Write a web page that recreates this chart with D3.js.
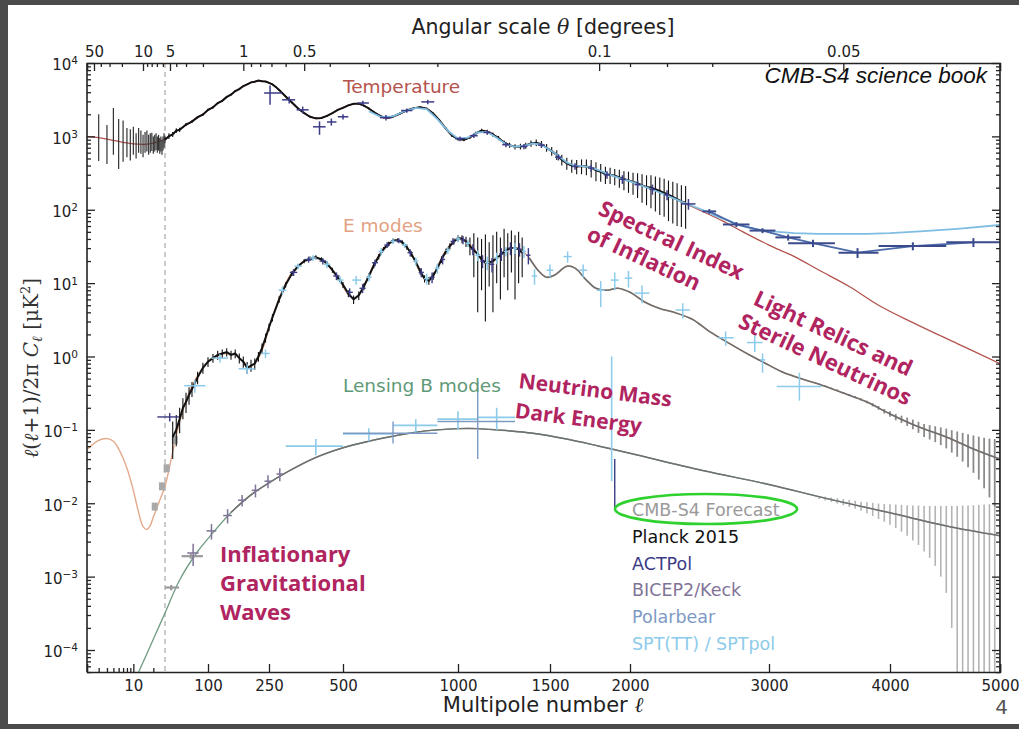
<!DOCTYPE html>
<html><head><meta charset="utf-8">
<script src="https://cdn.jsdelivr.net/npm/d3@7"></script>
<style>body{margin:0;background:#fff}svg{display:block}</style>
</head><body><svg id="c" width="1019" height="729"></svg>
<script>
// ---------------- DATA ----------------
const ttTheory = [[2,1000],[3,960],[4,920],[5,880],[7,830],[10,790],[15,780],[20,810],[25,860],[30,920],[40,1080],[50,1250],[60,1420],[80,1800],[100,2250],[120,2800],[140,3400],[160,4100],[180,4800],[200,5400],[220,5700],[240,5600],[260,5100],[280,4300],[300,3500],[330,2600],[360,2050],[390,1800],[410,1750],[440,1900],[480,2300],[520,2650],[550,2800],[580,2650],[620,2150],[660,1800],[700,1850],[760,2250],[820,2500],[860,2300],[900,1750],[950,1200],[990,960],[1030,900],[1070,1000],[1120,1200],[1160,1150],[1210,950],[1260,780],[1300,720],[1350,740],[1410,820],[1450,780],[1500,650],[1540,560],[1590,450],[1640,390],[1690,390],[1740,380],[1800,340],[1900,290],[2000,250],[2120,200],[2240,160],[2360,125],[2500,95],[2650,70],[2800,50],[3000,33],[3200,23],[3400,15],[3650,9],[3900,5],[4200,2.9],[4600,1.5],[5000,0.8]];
const eeTheory = [[2,0.054],[3,0.072],[4,0.076],[5,0.07],[6,0.055],[8,0.03],[10,0.015],[12,0.0075],[14,0.0048],[16,0.0044],[18,0.005],[20,0.0065],[25,0.011],[30,0.017],[40,0.05],[50,0.13],[60,0.25],[70,0.4],[80,0.55],[100,0.85],[120,1.05],[140,1.1],[160,1.05],[180,0.85],[195,0.72],[210,0.8],[230,1.2],[260,3.5],[290,8],[320,14],[360,20],[400,22.5],[440,18],[480,12],[520,7],[545,6.2],[580,9],[620,18],[660,30],[700,38],[740,36],[780,25],[820,14],[850,11],[880,13],[930,25],[980,38],[1010,42],[1050,36],[1100,25],[1140,19],[1170,19],[1220,24],[1280,30],[1320,30],[1380,22],[1430,15],[1480,12],[1530,13],[1600,17],[1650,16],[1720,11],[1780,8.5],[1850,8],[1920,8.5],[2000,7.5],[2100,5.5],[2200,4.5],[2300,4.0],[2430,3.2],[2550,2.2],[2700,1.5],[2850,1.05],[2960,0.83],[3100,0.62],[3300,0.47],[3400,0.42],[3640,0.3],[3800,0.24],[4000,0.165],[4250,0.11],[4500,0.08],[4750,0.055],[5000,0.04]];
const bbTheory = [[12,5e-5],[20,1.4e-4],[30,3.2e-4],[50,9e-4],[80,2.2e-3],[100,3.3e-3],[150,7.5e-3],[200,0.013],[250,0.019],[300,0.026],[400,0.042],[500,0.057],[600,0.07],[700,0.082],[800,0.093],[900,0.1],[1000,0.104],[1100,0.104],[1200,0.1],[1400,0.09],[1600,0.075],[1800,0.06],[2000,0.048],[2500,0.028],[3000,0.018],[3500,0.0112],[4000,0.0074],[4500,0.0049],[5000,0.0036]];

// Planck 2015: [ell, lo, hi] (low ell) and [ell, value, lo, hi]
const planckLowTT = [[3,460,2000],[4,420,1430],[5,560,2430],[6,360,1720],[7,450,1650],[8,520,1300],[9,470,1250],[10,560,1350],[11,500,1100],[12,600,1300],[13,580,1200],[14,520,1050],[15,600,1150],[16,620,1200],[17,560,1050],[18,600,1100],[19,630,1120],[20,580,1000],[21,620,1050],[22,650,1100],[23,600,1000],[24,640,1050],[25,580,950],[26,620,1000],[27,560,900],[28,640,1000],[29,700,1100]];
const planckTT = [[30,900,800,1000],[35,1010,920,1100],[40,1060,980,1150],[45,1200,1110,1290],[50,1230,1150,1310],[60,1450,1380,1520],[70,1590,1520,1660],[80,1830,1760,1900],[90,1980,1910,2050],[100,2300,2220,2380],[110,2480,2400,2560],[120,2850,2760,2940],[130,3050,2960,3140],[140,3450,3350,3550],[150,3700,3600,3800],[160,4150,4050,4250],[170,4400,4300,4500],[180,4850,4750,4950],[190,5100,5000,5200],[200,5450,5350,5550],[210,5550,5450,5650],[220,5750,5650,5850],[230,5650,5550,5750],[240,5580,5480,5680],[250,5350,5250,5450],[260,5100,5000,5200],[270,4700,4600,4800],[280,4300,4200,4400],[300,3500,3420,3580],[320,2900,2830,2970],[340,2400,2340,2460],[360,2080,2020,2140],[380,1850,1800,1900],[400,1760,1710,1810],[420,1780,1730,1830],[440,1900,1850,1950],[460,2080,2020,2140],[480,2300,2240,2360],[500,2450,2390,2510],[520,2650,2590,2710],[540,2780,2710,2850],[560,2790,2720,2860],[580,2620,2550,2690],[600,2400,2330,2470],[620,2150,2090,2210],[640,1950,1890,2010],[660,1820,1760,1880],[680,1800,1740,1860],[700,1860,1800,1920],[730,2050,1980,2120],[760,2260,2190,2330],[790,2420,2340,2500],[820,2500,2420,2580],[850,2380,2300,2460],[880,2050,1980,2120],[910,1650,1590,1710],[940,1280,1230,1330],[970,1030,980,1080],[1000,920,875,965],[1030,900,855,945],[1060,970,920,1020],[1090,1100,1040,1160],[1120,1200,1130,1270],[1150,1160,1090,1230],[1180,1060,990,1130],[1210,950,885,1015],[1240,820,760,880],[1270,760,700,820],[1300,720,660,780],[1330,730,665,795],[1360,750,680,820],[1390,800,720,880],[1420,820,735,905],[1450,780,695,865],[1480,700,615,785],[1510,630,545,715],[1540,560,475,645],[1570,480,400,560],[1600,430,350,510],[1630,400,320,480],[1660,390,305,475],[1690,395,305,485],[1720,390,295,485],[1750,375,275,475],[1780,345,245,445],[1810,330,240,420],[1840,305,225,385],[1870,300,225,375],[1900,290,215,360],[1930,275,200,350],[1960,260,185,335],[1990,250,170,330],[2020,240,160,320],[2050,230,145,315],[2080,215,125,305],[2110,205,115,295],[2140,200,105,295],[2170,190,95,285],[2200,180,85,275],[2230,170,80,265],[2260,160,70,250],[2290,150,65,240],[2320,140,60,230],[2350,130,58,215],[2380,125,55,210]];
const planckEE = [[40,0.08,0.04,0.13],[45,0.1,0.06,0.16],[50,0.14,0.09,0.2],[55,0.2,0.14,0.27],[60,0.24,0.17,0.32],[65,0.3,0.22,0.38],[70,0.36,0.28,0.45],[80,0.52,0.42,0.62],[90,0.7,0.58,0.82],[100,0.85,0.72,0.98],[110,0.95,0.82,1.08],[120,1.05,0.9,1.2],[130,1.1,0.95,1.25],[140,1.15,1.0,1.3],[150,1.05,0.9,1.2],[160,1.1,0.95,1.25],[170,0.95,0.8,1.1],[180,0.85,0.7,1.0],[190,0.7,0.58,0.84],[200,0.75,0.62,0.9],[210,0.8,0.66,0.94],[220,1.0,0.85,1.15],[230,1.3,1.1,1.5],[240,1.8,1.55,2.05],[250,2.5,2.2,2.8],[260,3.4,3.0,3.8],[280,6.0,5.4,6.6],[300,9.5,8.7,10.3],[320,13.5,12.5,14.5],[340,17,15.8,18.2],[360,20,18.6,21.4],[380,21.5,20,23],[400,22.5,21,24],[420,21,19.5,22.5],[440,18.5,17,20],[460,15,13.8,16.2],[480,12,11,13],[500,9.5,8.6,10.4],[520,7.2,6.4,8],[540,6.0,5.2,6.8],[560,6.8,5.9,7.7],[580,9.0,8,10],[600,12.5,11.3,13.7],[620,17.5,16,19],[640,23,21,25],[660,29,27,31],[680,34,31.5,36.5],[700,38,35.5,40.5],[720,38.5,36,41],[740,36,33.5,38.5],[760,31,28.5,33.5],[780,25,22.8,27.2],[800,19.5,17.6,21.4],[820,14.5,13,16],[840,11.5,10.2,12.8],[860,10.8,9.5,12.1],[880,12.5,11,14],[900,16,14.2,17.8],[920,21,18.8,23.2],[940,27,24.5,29.5],[960,32,29,35],[980,37,33.5,40.5],[1000,41,37,45],[1020,40,35,45],[1040,37,31,43],[1060,32,24,42],[1080,28,12,48],[1100,25,4,42],[1120,21,8,40],[1140,19,3,46],[1160,19,9,36],[1180,20,4,45],[1200,22,10,50],[1220,24,6,42],[1240,27,12,55],[1260,29,8,48],[1280,30,14,52],[1300,30,6,45],[1320,29,10,50],[1340,26,12,42]];

// crosses: [ell, value, lo, hi, ellLo, ellHi]
const actTT = [[253,3900,2700,4950,236,289],[311,3150,2800,3500,289,330],[355,2300,2050,2550,335,375],[413,1350,1050,1600,390,435],[456,1570,1400,1750,440,475],[500,1850,1700,2000,480,520],[576,2850,2650,3050,555,600],[670,1800,1650,1950,645,695],[760,2250,2100,2400,735,785],[855,2950,2750,3150,825,885],[1010,930,860,1000,985,1035],[1080,1020,950,1090,1060,1100],[1150,1130,1050,1210,1130,1170],[1250,770,710,830,1230,1270],[1350,730,670,790,1330,1370],[1450,760,700,820,1430,1470],[1550,520,470,570,1530,1570],[1650,390,350,430,1630,1670],[1750,370,330,410,1730,1770],[1850,300,265,335,1830,1870],[1950,260,225,295,1930,1970],[2050,220,190,250,2030,2070],[2150,190,160,220,2130,2170],[2250,160,135,185,2230,2270],[2400,120,100,140,2350,2450]];
const actHighTT = [[2550,95,88,102,2500,2600],[2750,63,58,68,2650,2850],[2950,52,48,56,2850,3050],[3150,42,38,46,3050,3250],[3350,35,31,39,3150,3530],[3720,26,22,30,3560,3900],[4200,32,28,36,3900,4500],[4750,36,31,41,4500,5000]];
const sptTT = [[600,2200],[650,1830],[700,1870],[750,2200],[800,2450],[850,2350],[900,1720],[950,1190],[1000,930],[1050,960],[1100,1130],[1150,1150],[1200,960],[1250,780],[1300,720],[1350,745],[1400,800],[1450,770],[1500,650],[1550,545],[1600,440],[1650,395],[1700,392],[1750,375],[1800,345],[1850,310],[1900,285],[1950,262],[2000,245],[2100,205],[2200,172],[2300,142],[2400,118],[2500,100],[2600,82],[2700,70],[2800,60],[2900,54],[3000,51],[3200,48],[3400,47],[3600,47],[3800,47],[4000,48],[4300,51],[4600,55],[5000,62]];
const actEE = [[36,0.15,0.13,0.17,23,49],[325,14,12.5,15.5,313,337],[375,21,19,23,363,387],[425,20,18,22,413,437],[475,12.5,11,14,463,487],[525,7.5,6.5,8.5,513,537],[575,8.5,7.3,9.7,563,587],[625,19,17,21,613,637],[675,33,30,36,663,687],[725,38,35,41,713,737],[775,26,23,29,763,787],[825,14,12,16,813,837],[875,12,10,14,863,887],[925,21,18,24,913,937],[975,37,33,41,963,987],[1025,39,34,44,1013,1037],[1075,29,24,34,1063,1087],[1125,20,16,24,1113,1137],[1175,18,14,22,1163,1187],[1225,25,20,30,1213,1237],[1275,30,24,36,1263,1287],[1325,29,23,35,1313,1337],[1375,24,18,30,1363,1387]];
const sptEE = [[75,0.4,0.32,0.48,57,95],[125,0.95,0.83,1.07,107,143],[190,0.68,0.58,0.78,168,210],[240,1.1,0.95,1.25,228,252],[290,8,7,9,278,302],[340,17,15.5,18.5,328,352],[390,22,20,24,378,402],[440,18,16,20,428,452],[490,11,9.7,12.3,478,502],[550,11,9.5,12.5,535,570],[600,12,10.5,13.5,588,612],[650,27,24,30,638,662],[700,37,34,40,688,712],[750,33,30,36,738,762],[800,20,17.5,22.5,788,812],[850,11.5,9.5,13.5,838,862],[900,16,13.5,18.5,888,912],[950,28,25,31,938,962],[1000,40,36,44,988,1012],[1050,35,31,39,1038,1062],[1100,24,20,28,1088,1112],[1150,19,15,23,1138,1162],[1200,22,18,26,1188,1212],[1250,27,23,31,1238,1262],[1300,30,25,35,1288,1312],[1350,27,22,32,1338,1362],[1410,12.5,9.5,15.5,1395,1425],[1500,15,12,18,1480,1520],[1605,23,19,27,1580,1630],[1700,15,12,18,1675,1725],[1810,8,4.7,10.7,1785,1835],[1900,11,8,14,1875,1925],[1990,11.7,8.7,14.7,1965,2015],[2080,7.3,5.3,9.3,2030,2130],[2360,4.3,3.3,5.3,2310,2410],[2670,1.8,1.4,2.2,2610,2730],[2890,1.55,1.15,1.95,2830,2950],[2950,0.9,0.6,1.1,2930,2970],[3240,0.39,0.25,0.6,3060,3420]];

const s4LowEE = [[21,0.009],[27,0.017],[32,0.03],[43,0.073]];
const s4LowBB = [[38,7.1e-4,6.5e-4,7.7e-4,30,49],[68,1.9e-3,1.75e-3,2.05e-3,53,90]];
const bkBB = [[72,0.0021,0.0014,0.0028,62,82],[107,0.0042,0.0032,0.0052,97,117],[142,0.0068,0.0053,0.0083,132,152],[177,0.011,0.009,0.013,167,187],[212,0.015,0.012,0.018,202,222],[247,0.02,0.016,0.024,237,257],[282,0.025,0.02,0.03,272,292]];
const pbBB = [[700,0.09,0.065,0.13,500,900],[1100,0.13,0.04,0.44,900,1300]];
const sptBB = [[400,0.06,0.045,0.075,300,500],[600,0.088,0.07,0.105,500,700],[800,0.115,0.09,0.14,700,900],[1000,0.14,0.1,0.18,900,1100],[1200,0.148,0.1,0.2,1100,1300],[1880,0.1,0.02,1.0,1880,1880]];
const actBB = [[1900,0.02,0.0088,0.04,1900,1900]];

const s4Ell  = [3400,3450,3500,3550,3600,3650,3700,3750,3800,3850,3900,3950,4000,4050,4100,4150,4200,4250,4300,4350,4400,4450,4500,4550,4600,4650,4700,4750,4800,4850,4900,4950,5000];
const s4E    = [0.42,0.4,0.37,0.35,0.32,0.3,0.28,0.26,0.24,0.22,0.2,0.18,0.165,0.15,0.14,0.13,0.12,0.11,0.1,0.095,0.09,0.085,0.08,0.074,0.069,0.064,0.059,0.055,0.051,0.047,0.044,0.042,0.04];
const s4Eerr = [0.006,0.006,0.007,0.007,0.008,0.008,0.009,0.009,0.01,0.011,0.012,0.013,0.014,0.015,0.016,0.017,0.018,0.019,0.02,0.021,0.022,0.023,0.024,0.025,0.026,0.027,0.028,0.029,0.03,0.031,0.032,0.033,0.033];
const s4B    = [0.012,0.0116,0.0112,0.0108,0.0104,0.01,0.0096,0.0092,0.0088,0.0084,0.008,0.0077,0.0074,0.0071,0.0068,0.0065,0.0062,0.006,0.0057,0.0055,0.0053,0.0051,0.0049,0.0047,0.0045,0.0044,0.0042,0.0041,0.004,0.0039,0.0038,0.0037,0.0036];
const s4Berr = [0.0006,0.0007,0.0008,0.0009,0.001,0.0011,0.0012,0.0013,0.0015,0.0017,0.0019,0.0021,0.0023,0.0025,0.0027,0.0029,0.0031,0.0033,0.0035,0.0037,0.0039,0.0041,0.0043,0.0045,0.0047,0.0049,0.0051,0.0053,0.0055,0.0057,0.0059,0.0061,0.0063];

const xMajor = [10,100,250,500,1000,1500,2000,3000,4000,5000];
const xMinor = [3,4,5,6,7,8,9,20];
const thetaMajor = [50,10,5,1,0.5,0.1,0.05];
const thetaMinor = [40,30,20,9,8,7,6,4,3,2,0.9,0.8,0.7,0.6,0.4,0.3,0.2,0.09,0.08,0.07,0.06,0.04];
const yExp = [-4,-3,-2,-1,0,1,2,3,4];
const legendItems = [["CMB-S4 Forecast","#9a9a9a"],["Planck 2015","#111111"],["ACTPol","#3b3b86"],["BICEP2/Keck","#7f7398"],["Polarbear","#7d9ac4"],["SPT(TT) / SPTpol","#8ccbea"]];

// ---------------- SCALES ----------------
const L = 87, R = 1000, T = 63, B = 672;
const xLow = d3.scaleLog().domain([2,30]).range([L,165]);
const xHigh = d3.scalePow().exponent(0.585).domain([30,100,250,500,1000,1500,2000,3000,4000,5000]).range([165,208,269,343,458,550,630,769,890,R]);
const x = l => l < 30 ? xLow(l) : xHigh(l);
x.copy = () => x; x.range = () => [L,R]; x.domain = () => [2,5000];
const thLow = d3.scaleLog().domain([50,10,5]).range([94,143,170]);
const xt = t => t >= 5 ? thLow(t) : x(180/t);
xt.copy = () => xt; xt.range = () => [L,R]; xt.domain = () => [50,0.04];
const y = d3.scaleLog().domain([1e-4,1e4]).range([650,T]);
const yc = v => v <= 0 ? B + 5 : y(v);

const svg = d3.select('#c');
svg.append('rect').attr('width',1019).attr('height',729).attr('fill','#4b4b4b');
svg.append('rect').attr('x',8).attr('y',5).attr('width',1011).attr('height',719).attr('fill','#fff');

svg.append('clipPath').attr('id','clip').append('rect').attr('x',L).attr('y',T).attr('width',R-L).attr('height',B-T);
const plot = svg.append('g').attr('clip-path','url(#clip)');

plot.append('line').attr('x1',x(30)).attr('x2',x(30)).attr('y1',T).attr('y2',B).attr('stroke','#b0b0b0').attr('stroke-width',1.3).attr('stroke-dasharray','5,4');

const line = d3.line().x(d=>x(d[0])).y(d=>y(d[1])).curve(d3.curveCatmullRom.alpha(0.5));

plot.append('path').attr('d',line(ttTheory)).attr('fill','none').attr('stroke','#b4534d').attr('stroke-width',1.3);
plot.append('path').attr('d',line(eeTheory)).attr('fill','none').attr('stroke','#e3a98a').attr('stroke-width',1.4);
plot.append('path').attr('d',line(bbTheory)).attr('fill','none').attr('stroke','#6f9c82').attr('stroke-width',1.3);

function crosses(g, data, color, w){
  data.forEach(d=>{
    g.append('line').attr('x1',x(d[0])).attr('x2',x(d[0])).attr('y1',yc(d[2])).attr('y2',yc(d[3])).attr('stroke',color).attr('stroke-width',w);
    if (d[4] !== d[5]) g.append('line').attr('x1',x(d[4])).attr('x2',x(d[5])).attr('y1',y(d[1])).attr('y2',y(d[1])).attr('stroke',color).attr('stroke-width',w);
  });
}

const gS4 = plot.append('g');
s4Ell.forEach((l,i)=>{
  gS4.append('line').attr('x1',x(l)).attr('x2',x(l)).attr('y1',yc(s4B[i]-s4Berr[i])).attr('y2',yc(s4B[i]+s4Berr[i])).attr('stroke','#b4b4b4').attr('stroke-width',1.6);
  gS4.append('line').attr('x1',x(l)).attr('x2',x(l)).attr('y1',yc(s4E[i]-s4Eerr[i])).attr('y2',yc(s4E[i]+s4Eerr[i])).attr('stroke','#8a8a8a').attr('stroke-width',1.8);
});
plot.append('path').attr('d',line(eeTheory.filter(d=>d[0]>=1350))).attr('fill','none').attr('stroke','#6e6e6e').attr('stroke-width',1.6);
plot.append('path').attr('d',line(bbTheory.filter(d=>d[0]>=150))).attr('fill','none').attr('stroke','#707070').attr('stroke-width',1.5);
gS4.selectAll('rect.lowE').data(s4LowEE).join('rect').attr('x',d=>x(d[0])-3).attr('y',d=>y(d[1])-4).attr('width',6).attr('height',8).attr('fill','#a9a9a9');
crosses(gS4, s4LowBB, '#9a9a9a', 2.2);

const gP = plot.append('g');
planckLowTT.forEach(d=>gP.append('line').attr('x1',x(d[0])).attr('x2',x(d[0])).attr('y1',y(d[1])).attr('y2',y(d[2])).attr('stroke','#333').attr('stroke-width',1.2));
[planckTT, planckEE].forEach(arr=>{
  arr.forEach(d=>gP.append('line').attr('x1',x(d[0])).attr('x2',x(d[0])).attr('y1',y(d[2])).attr('y2',y(d[3])).attr('stroke','#111').attr('stroke-width',1.1));
  gP.append('path').attr('d',d3.line().x(d=>x(d[0])).y(d=>y(d[1]))(arr)).attr('fill','none').attr('stroke','#111').attr('stroke-width',2);
});

plot.append('path').attr('d',d3.line().x(d=>x(d[0])).y(d=>y(d[1]))(sptTT)).attr('fill','none').attr('stroke','#7fbde2').attr('stroke-width',1.8);
plot.append('path').attr('d',d3.line().x(d=>x(d[0])).y(d=>y(d[1]))(actHighTT)).attr('fill','none').attr('stroke','#4a6aa8').attr('stroke-width',1.8);
const gD = plot.append('g');
crosses(gD, actTT, '#3b3b86', 1.5);
crosses(gD, actHighTT, '#3b4a8c', 2);
crosses(gD, actEE, '#3b3b86', 1.4);
crosses(gD, sptEE, '#8ccbea', 1.5);
crosses(gD, bkBB, '#7f7398', 1.5);
crosses(gD, sptBB, '#8ccbea', 1.6);
crosses(gD, pbBB, '#7d9ac4', 1.4);
crosses(gD, actBB, '#3b3b86', 1.4);

// ---------------- AXES ----------------
const axFont = '"DejaVu Sans", sans-serif';
const FS = 15;
function styleAxis(g){ g.select('.domain').attr('stroke','#222').attr('stroke-width',1.6); g.selectAll('.tick line').attr('stroke','#222').attr('stroke-width',1.3); g.selectAll('text').attr('font-family',axFont).attr('font-size',FS).attr('fill','#222'); }
const gb = svg.append('g').attr('transform',`translate(0,${B})`).call(d3.axisBottom(x).tickValues(xMajor).tickSize(-8).tickPadding(8).tickFormat(d3.format('d')));
styleAxis(gb);
svg.append('g').attr('transform',`translate(0,${B})`).call(d3.axisBottom(x).tickValues(xMinor).tickSize(-4).tickFormat('')).call(styleAxis).select('.domain').remove();
const gt = svg.append('g').attr('transform',`translate(0,${T})`).call(d3.axisTop(xt).tickValues(thetaMajor).tickSize(-8).tickPadding(6).tickFormat(d=>String(d)));
styleAxis(gt);
svg.append('g').attr('transform',`translate(0,${T})`).call(d3.axisTop(xt).tickValues(thetaMinor).tickSize(-4).tickFormat('')).call(styleAxis).select('.domain').remove();

const yMinor = [];
yExp.forEach(e=>{ for(let k=2;k<=9;k++){ const v=k*Math.pow(10,e); if (y(v)>=T) yMinor.push(v);} });
for(let k=5;k<=9;k++) yMinor.push(k*1e-5);
const gl = svg.append('g').attr('transform',`translate(${L},0)`).call(d3.axisLeft(y).tickValues(yExp.map(e=>Math.pow(10,e))).tickSize(-8).tickPadding(6).tickFormat(''));
styleAxis(gl);
gl.select('.domain').attr('d',`M0,${B}V${T}`);
gl.selectAll('.tick').each(function(d){
  const e = Math.round(Math.log10(d));
  const t = d3.select(this).append('text').attr('x',-9).attr('dy','0.45em').attr('text-anchor','end').attr('font-family',axFont).attr('font-size',FS).attr('fill','#222');
  t.append('tspan').text('10');
  t.append('tspan').attr('dy','-0.55em').attr('font-size',10.5).text(String(e).replace('-','\u2212'));
});
svg.append('g').attr('transform',`translate(${L},0)`).call(d3.axisLeft(y).tickValues(yMinor).tickSize(-4).tickFormat('')).call(styleAxis).select('.domain').remove();
const gr = svg.append('g').attr('transform',`translate(${R},0)`).call(d3.axisRight(y).tickValues(yExp.map(e=>Math.pow(10,e))).tickSize(-8).tickFormat(''));
styleAxis(gr); gr.select('.domain').attr('d',`M0,${B}V${T}`);
svg.append('g').attr('transform',`translate(${R},0)`).call(d3.axisRight(y).tickValues(yMinor).tickSize(-4).tickFormat('')).call(styleAxis).select('.domain').remove();

// ---------------- TEXT ----------------
svg.append('text').attr('x',543).attr('y',34).attr('text-anchor','middle').attr('font-family',axFont).attr('font-size',20.5).attr('fill','#222')
  .html('Angular scale <tspan font-family="DejaVu Serif" font-style="italic">θ</tspan> [degrees]');
svg.append('text').attr('x',543).attr('y',712).attr('text-anchor','middle').attr('font-family',axFont).attr('font-size',21).attr('fill','#222')
  .html('Multipole number <tspan font-family="DejaVu Serif" font-style="italic">ℓ</tspan>');
svg.append('text').attr('transform','translate(38,368) rotate(-90)').attr('text-anchor','middle').attr('font-family','"DejaVu Serif", serif').attr('font-size',20).attr('fill','#333')
  .html('<tspan font-style="italic">ℓ</tspan>(<tspan font-style="italic">ℓ</tspan>+1)/2π <tspan font-style="italic">C</tspan><tspan font-style="italic" font-size="14" dy="4">ℓ</tspan><tspan dy="-4"> [μK</tspan><tspan font-size="13" dy="-8">2</tspan><tspan dy="8">]</tspan>');
svg.append('text').attr('x',987).attr('y',83).attr('text-anchor','end').attr('font-family','"Liberation Sans", Arial, sans-serif').attr('font-style','italic').attr('font-size',22.5).attr('fill','#111').text('CMB-S4 science book');
svg.append('text').attr('x',1008).attr('y',714).attr('text-anchor','end').attr('font-family',axFont).attr('font-size',20).attr('fill','#555').text('4');

const lab = (t,xx,yy,c)=>svg.append('text').attr('x',xx).attr('y',yy).attr('font-family',axFont).attr('font-size',18.5).attr('fill',c).text(t);
lab('Temperature',343,93,'#b4534d');
lab('E modes',343,232,'#e3a283');
lab('Lensing B modes',343,392,'#5f9a78');

const mag = '#b0245f';
const ann = (lines, xx, yy, rot, fs, lh)=>{
  const t = svg.append('text').attr('transform',`translate(${xx},${yy}) rotate(${rot})`).attr('font-family','"Open Sans", sans-serif').attr('font-weight',700).attr('font-size',fs).attr('fill',mag);
  lines.forEach((s,i)=>t.append('tspan').attr('x',i? (s[1]||0):0).attr('dy',i? lh:0).text(s[0]));
};
ann([['Spectral Index'],['of Inflation',0]],597,214,25,22,28);
ann([['Light Relics and'],['Sterile Neutrinos',-4]],752,304,25,22,27);
ann([['Neutrino Mass'],['Dark Energy',0]],518,388,7,21,30);
ann([['Inflationary'],['Gravitational',0],['Waves',0]],220,562,0,22,29);

legendItems.forEach((d,i)=>svg.append('text').attr('x',632).attr('y',516+i*26.8).attr('font-family',axFont).attr('font-size',17.5).attr('fill',d[1]).text(d[0]));
svg.append('ellipse').attr('cx',706).attr('cy',509).attr('rx',91).attr('ry',15).attr('fill','none').attr('stroke','#2fd12f').attr('stroke-width',2.6);
</script></body></html>
